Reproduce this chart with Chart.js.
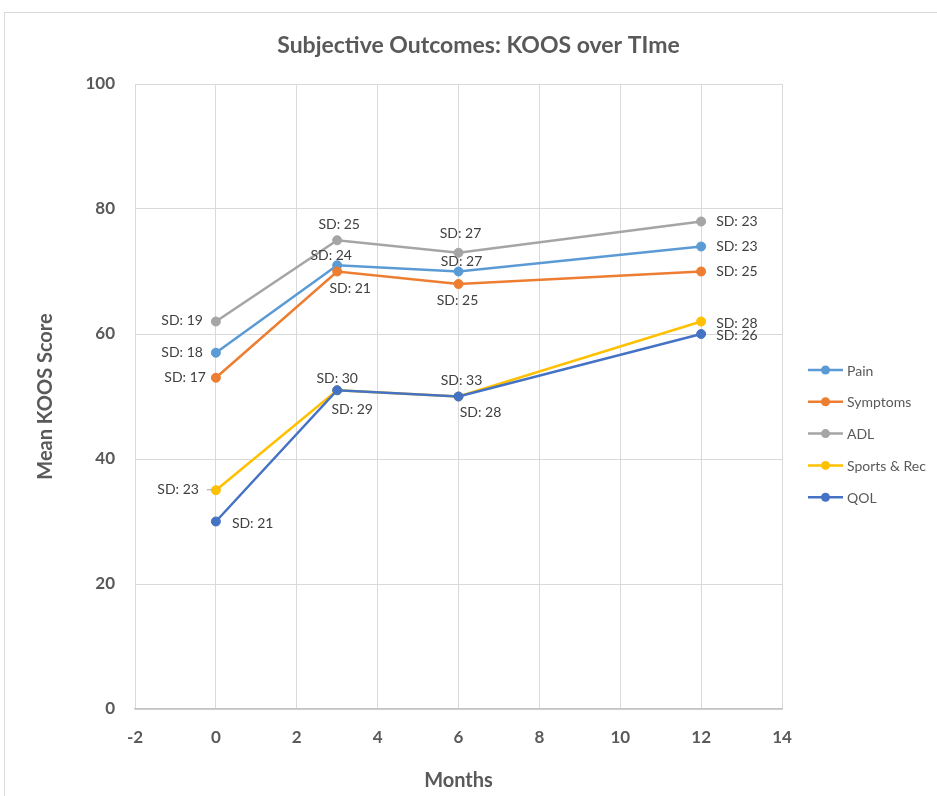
<!DOCTYPE html>
<html>
<head>
<meta charset="utf-8">
<title>Subjective Outcomes: KOOS over Time</title>
<script src="https://cdn.jsdelivr.net/npm/chart.js@4/dist/chart.umd.min.js"></script>
<style>
  html, body { margin: 0; padding: 0; background: #fff; }
  canvas { display: block; }
</style>
</head>
<body>
<canvas id="koos" width="937" height="796"></canvas>
<script>
// Follow-up time points (months)
const months = [0, 3, 6, 12];

// Mean KOOS subscale scores
const pain = [57, 71, 70, 74];
const symptoms = [53, 70, 68, 70];
const adl = [62, 75, 73, 78];
const sportsRec = [35, 51, 50, 62];
const qol = [30, 51, 50, 60];

// Standard deviations shown next to each mean
const painSD = [18, 24, 27, 23];
const symptomsSD = [17, 21, 25, 25];
const adlSD = [19, 25, 27, 23];
const sportsRecSD = [23, 30, 33, 28];
const qolSD = [21, 29, 28, 26];

const seriesNames = ['Pain', 'Symptoms', 'ADL', 'Sports & Rec', 'QOL'];
const seriesColors = ['#5B9BD5', '#ED7D31', '#A5A5A5', '#FFC000', '#4472C4'];

// Where each SD label sits relative to its point: [dx, dy, align, leader line]
const sdPlacement = [
  [[-13, 0, 'right'], [-6, -10, 'center'], [3, -10, 'center'], [15, 0, 'left']],
  [[-10, 0, 'right'], [13, 17, 'center'], [-1, 16, 'center'], [15, 0, 'left']],
  [[-13, -1, 'right'], [2, -16, 'center'], [2, -19, 'center'], [15, 0, 'left']],
  [[-17, -1, 'right', true], [0, -12, 'center'], [3, -16, 'center'], [15, 2, 'left']],
  [[16, 2, 'left'], [15, 19, 'center'], [22, 16, 'center'], [15, 1, 'left']]
];

const values = [pain, symptoms, adl, sportsRec, qol];
const sds = [painSD, symptomsSD, adlSD, sportsRecSD, qolSD];

const FONT = "Lato, 'Open Sans', sans-serif";
const GRID = '#d9d9d9';
const AXIS_TEXT = '#595959';

const datasets = seriesNames.map((name, i) => ({
  label: name,
  data: months.map((m, j) => ({ x: m, y: values[i][j] })),
  sd: sds[i],
  sdPlacement: sdPlacement[i],
  borderColor: seriesColors[i],
  backgroundColor: seriesColors[i],
  pointBackgroundColor: seriesColors[i],
  pointBorderColor: seriesColors[i],
  borderWidth: 2.5,
  pointRadius: 4.5,
  pointBorderWidth: 1,
  showLine: true,
  tension: 0,
  yAxisID: 'y',
  order: seriesNames.length - i
}));

// White page with a thin frame around the chart
const framePlugin = {
  id: 'frame',
  beforeDraw(chart) {
    const ctx = chart.ctx;
    ctx.save();
    ctx.fillStyle = '#fff';
    ctx.fillRect(0, 0, chart.width, chart.height);
    ctx.strokeStyle = '#d9d9d9';
    ctx.lineWidth = 1;
    ctx.strokeRect(4.5, 12.5, chart.width + 20, chart.height + 20);
    ctx.restore();
  }
};

// "SD: n" annotations beside every point
const sdLabelPlugin = {
  id: 'sdLabels',
  afterDatasetsDraw(chart) {
    const ctx = chart.ctx;
    ctx.save();
    ctx.font = '14px ' + FONT;
    ctx.fillStyle = '#404040';
    ctx.textBaseline = 'middle';
    chart.data.datasets.forEach((ds, i) => {
      const meta = chart.getDatasetMeta(i);
      meta.data.forEach((pt, j) => {
        const [dx, dy, align, leader] = ds.sdPlacement[j];
        const text = 'SD: ' + ds.sd[j];
        const x = pt.x + dx, y = pt.y + dy;
        ctx.textAlign = align;
        ctx.fillText(text, x, y);
        if (leader) {
          ctx.strokeStyle = '#a6a6a6';
          ctx.lineWidth = 1;
          ctx.beginPath();
          ctx.moveTo(x + 8, y + 0.5);
          ctx.lineTo(x + 13, y + 0.5);
          ctx.stroke();
        }
      });
    });
    ctx.restore();
  }
};

// Legend to the right of the plot: line-and-marker key per series
const sideLegendPlugin = {
  id: 'sideLegend',
  afterDraw(chart) {
    const ctx = chart.ctx;
    const area = chart.chartArea;
    const x0 = area.right + 26;
    const y0 = area.top + 286;
    ctx.save();
    ctx.font = '14px ' + FONT;
    ctx.textBaseline = 'middle';
    ctx.textAlign = 'left';
    chart.data.datasets.forEach((ds, i) => {
      const y = y0 + i * 31.8;
      ctx.strokeStyle = ds.borderColor;
      ctx.lineWidth = 2.5;
      ctx.beginPath();
      ctx.moveTo(x0, y);
      ctx.lineTo(x0 + 35, y);
      ctx.stroke();
      ctx.fillStyle = ds.borderColor;
      ctx.beginPath();
      ctx.arc(x0 + 17.5, y, 4.5, 0, Math.PI * 2);
      ctx.fill();
      ctx.fillStyle = AXIS_TEXT;
      ctx.fillText(ds.label, x0 + 39, y + 1);
    });
    ctx.restore();
  }
};

new Chart(document.getElementById('koos'), {
  type: 'scatter',
  data: { datasets },
  plugins: [framePlugin, sdLabelPlugin, sideLegendPlugin],
  options: {
    responsive: false,
    devicePixelRatio: 1,
    animation: false,
    layout: { padding: { left: 20, right: 0, top: 0, bottom: 0 } },
    plugins: {
      legend: { display: false },
      tooltip: { enabled: false },
      title: {
        display: true,
        text: 'Subjective Outcomes: KOOS over TIme',
        color: AXIS_TEXT,
        font: { family: FONT, size: 23, weight: 'bold' },
        padding: { top: 32, bottom: 24.4 }
      }
    },
    scales: {
      x: {
        type: 'linear',
        min: -2,
        max: 14,
        ticks: {
          stepSize: 2,
          color: AXIS_TEXT,
          padding: 18,
          font: { family: FONT, size: 17, weight: 'bold' }
        },
        grid: { color: GRID, lineWidth: 1, drawTicks: false },
        border: { color: '#c4c4c4', width: 1.5 },
        title: {
          display: true,
          text: 'Months',
          color: AXIS_TEXT,
          font: { family: FONT, size: 20, weight: 'bold' },
          padding: { top: 0, bottom: 3 }
        },
        afterFit(scale) { scale.height = 87; }
      },
      y: {
        position: 'left',
        min: 0,
        max: 100,
        ticks: {
          stepSize: 20,
          color: AXIS_TEXT,
          padding: 20,
          font: { family: FONT, size: 17, weight: 'bold' }
        },
        grid: { color: GRID, lineWidth: 1, drawTicks: false },
        border: { display: false },
        title: {
          display: true,
          text: 'Mean KOOS Score',
          color: AXIS_TEXT,
          font: { family: FONT, size: 20, weight: 'bold' },
          padding: { top: 14, bottom: 0 }
        },
        afterFit(scale) { scale.width = 115; }
      },
      // Empty right-hand axis that keeps room for the series key
      legendSpace: {
        type: 'linear',
        position: 'right',
        min: 0,
        max: 100,
        ticks: { display: false },
        grid: { drawOnChartArea: false, drawTicks: false },
        border: { display: false },
        afterFit(scale) { scale.width = 155; }
      }
    }
  }
});
</script>
</body>
</html>
